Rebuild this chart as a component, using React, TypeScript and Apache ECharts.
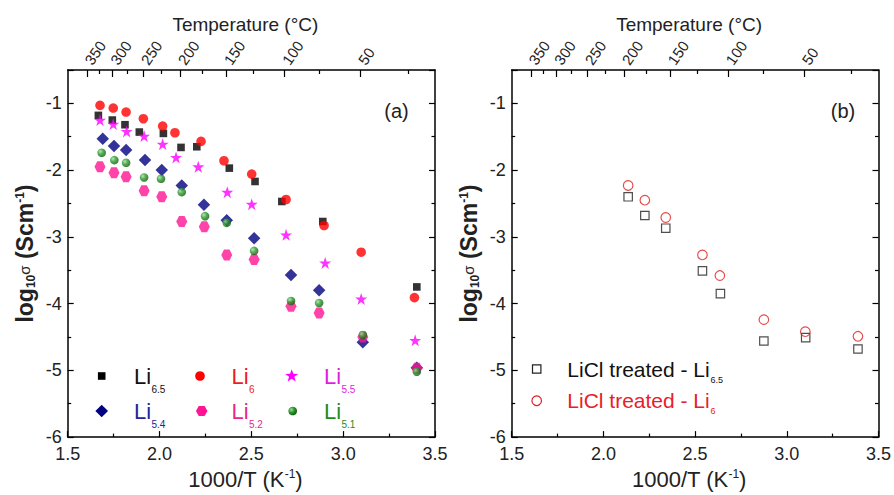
import React, { useEffect, useRef } from 'react';
import * as echarts from 'echarts';

// ---------- data ----------
const tempMajorC = [350, 300, 250, 200, 150, 100, 50];
const tempMinorC = [325, 275, 225, 175, 125, 75, 25];
const invTickLabels = ['1.5', '2.0', '2.5', '3.0', '3.5'];

// Panel (a)
const li65X = [1.667, 1.743, 1.812, 1.89, 2.021, 2.117, 2.203, 2.38, 2.52, 2.666, 2.889, 3.401];
const li65Y = [-1.18, -1.25, -1.32, -1.43, -1.45, -1.66, -1.65, -1.97, -2.17, -2.47, -2.77, -3.75];
const li6X = [1.676, 1.748, 1.818, 1.912, 2.017, 2.084, 2.226, 2.351, 2.502, 2.689, 2.896, 3.098, 3.388];
const li6Y = [-1.03, -1.07, -1.13, -1.23, -1.34, -1.44, -1.57, -1.86, -2.06, -2.44, -2.83, -3.23, -3.91];
const li55X = [1.676, 1.748, 1.821, 1.916, 2.017, 2.09, 2.211, 2.369, 2.502, 2.689, 2.902, 3.098, 3.392];
const li55Y = [-1.25, -1.31, -1.42, -1.49, -1.61, -1.81, -1.95, -2.33, -2.51, -2.97, -3.39, -3.93, -4.55];
const li54X = [1.691, 1.752, 1.818, 1.921, 2.012, 2.121, 2.242, 2.366, 2.515, 2.716, 2.869, 3.107, 3.401];
const li54Y = [-1.53, -1.64, -1.7, -1.85, -2.0, -2.23, -2.52, -2.75, -3.02, -3.57, -3.8, -4.58, -4.96];
const li52X = [1.676, 1.752, 1.818, 1.916, 2.012, 2.121, 2.244, 2.366, 2.515, 2.716, 2.869, 3.107, 3.401];
const li52Y = [-1.95, -2.04, -2.1, -2.31, -2.4, -2.77, -2.85, -3.27, -3.34, -4.04, -4.14, -4.5, -4.97];
const li51X = [1.685, 1.754, 1.818, 1.916, 2.008, 2.121, 2.248, 2.366, 2.515, 2.716, 2.869, 3.107, 3.401];
const li51Y = [-1.74, -1.85, -1.89, -2.11, -2.13, -2.33, -2.69, -2.79, -3.21, -3.96, -3.99, -4.47, -5.02];

// Panel (b)
const licl65X = [2.135, 2.226, 2.34, 2.54, 2.638, 2.875, 3.103, 3.388];
const licl65Y = [-2.4, -2.68, -2.87, -3.51, -3.85, -4.56, -4.51, -4.68];
const licl6X = [2.135, 2.226, 2.34, 2.54, 2.635, 2.875, 3.101, 3.388];
const licl6Y = [-2.23, -2.45, -2.71, -3.27, -3.58, -4.24, -4.42, -4.49];

// ---------- helpers ----------
const FONT = '"Liberation Sans", Arial, Helvetica, sans-serif';
const zip = (xs: number[], ys: number[]) => xs.map((x, i) => [x, ys[i]]);
const invT = (c: number) => 1000 / (c + 273.15);

const STAR = 'path://M50,0 L61.8,35.5 L99,35.5 L69,57.5 L80.5,93 L50,71 L19.5,93 L31,57.5 L1,35.5 L38.2,35.5 Z';
const HEX = 'path://M25,6 L75,6 L100,50 L75,94 L25,94 L0,50 Z';

const greenBall = (cx = 0.35, cy = 0.35) => ({
  type: 'radial', x: cx, y: cy, r: 0.7,
  colorStops: [
    { offset: 0, color: '#9be39b' },
    { offset: 0.45, color: '#2f9a2f' },
    { offset: 1, color: '#0b5a0b' },
  ],
});

function polyPoints(cx: number, cy: number, n: number, r: number, start: number) {
  const pts: number[][] = [];
  for (let i = 0; i < n; i++) {
    const a = start + (i * 2 * Math.PI) / n;
    pts.push([cx + r * Math.cos(a), cy + r * Math.sin(a)]);
  }
  return pts;
}
function starPoints(cx: number, cy: number, R: number, r: number) {
  const pts: number[][] = [];
  for (let i = 0; i < 10; i++) {
    const a = -Math.PI / 2 + (i * Math.PI) / 5;
    const rr = i % 2 === 0 ? R : r;
    pts.push([cx + rr * Math.cos(a), cy + rr * Math.sin(a)]);
  }
  return pts;
}

function marker(shape: string, cx: number, cy: number, color: string): any {
  switch (shape) {
    case 'square':
      return { type: 'rect', shape: { x: cx - 3.8, y: cy - 3.8, width: 7.6, height: 7.6 }, style: { fill: color } };
    case 'circle':
      return { type: 'circle', shape: { cx, cy, r: 4.8 }, style: { fill: color } };
    case 'star':
      return { type: 'polygon', shape: { points: starPoints(cx, cy, 6.8, 2.8) }, style: { fill: color } };
    case 'diamond':
      return { type: 'polygon', shape: { points: polyPoints(cx, cy, 4, 6.3, 0) }, style: { fill: color } };
    case 'hex':
      return { type: 'polygon', shape: { points: polyPoints(cx, cy, 6, 5.8, 0) }, style: { fill: color } };
    case 'ball':
      return { type: 'circle', shape: { cx, cy, r: 4.3 }, style: { fill: greenBall() } };
    case 'openSquare':
      return { type: 'rect', shape: { x: cx - 4.2, y: cy - 4.2, width: 8.4, height: 8.4 }, style: { fill: 'none', stroke: color, lineWidth: 1.2 } };
    case 'openCircle':
      return { type: 'circle', shape: { cx, cy, r: 4.8 }, style: { fill: 'none', stroke: color, lineWidth: 1.2 } };
  }
  return null;
}

function txt(text: string, x: number, y: number, size: number, color: string, align = 'left', weight = 'normal'): any {
  return {
    type: 'text', x, y,
    style: { text, fontSize: size, fontFamily: FONT, fill: color, align, verticalAlign: 'middle', fontWeight: weight },
  };
}

// layout of the two panels
const GRID_TOP = 70;
const GRID_H = 371;
const GRID_W = 367.3;
const LEFT_A = 67.7;
const LEFT_B = 511.7;

function bottomAxis(grid: number): any {
  return {
    type: 'value', gridIndex: grid, position: 'bottom', min: 1.5, max: 3.5, interval: 0.5,
    axisLine: { show: true, onZero: false, lineStyle: { color: '#000', width: 1.5 } },
    axisTick: { show: true, inside: true, length: 6, lineStyle: { color: '#000', width: 1.2 } },
    minorTick: { show: true, splitNumber: 2, length: 3.5, lineStyle: { color: '#000', width: 1.2 } },
    splitLine: { show: false },
    axisLabel: {
      show: true, margin: 8, fontSize: 18, color: '#222', fontFamily: FONT,
      formatter: (v: number) => { const s = v.toFixed(1); return invTickLabels.includes(s) ? s : ''; },
    },
    name: '{a|1000/T (K}{p|-1}{a|)}', nameLocation: 'middle', nameGap: 25,
    nameTextStyle: {
      padding: [0, 12, 0, 0],
      rich: {
        a: { fontSize: 22, fontFamily: FONT, color: '#222' },
        p: { fontSize: 12, fontFamily: FONT, color: '#222', verticalAlign: 'top' },
      },
    },
  };
}
function topMajorAxis(grid: number): any {
  const vals = tempMajorC.map(invT);
  return {
    type: 'value', gridIndex: grid, position: 'top', min: 1.5, max: 3.5,
    axisLine: { show: true, onZero: false, lineStyle: { color: '#000', width: 1.5 } },
    axisTick: { show: true, inside: true, length: 7, customValues: vals, lineStyle: { color: '#000', width: 1.2 } },
    splitLine: { show: false },
    axisLabel: { show: false },
    name: 'Temperature (°C)', nameLocation: 'middle', nameGap: 36,
    nameTextStyle: { fontSize: 19, fontFamily: FONT, color: '#222', padding: [0, 12, 0, 0] },
  };
}
function topMinorAxis(grid: number): any {
  const vals = tempMinorC.map(invT);
  return {
    type: 'value', gridIndex: grid, position: 'top', min: 1.5, max: 3.5,
    axisLine: { show: false },
    axisTick: { show: true, inside: true, length: 4, customValues: vals, lineStyle: { color: '#000', width: 1.2 } },
    splitLine: { show: false },
    axisLabel: { show: false },
  };
}
function yAxisFor(grid: number, right: boolean): any {
  return {
    type: 'value', gridIndex: grid, position: right ? 'right' : 'left', min: -6, max: -0.5, interval: 1,
    axisLine: { show: true, onZero: false, lineStyle: { color: '#000', width: 1.5 } },
    axisTick: { show: true, inside: true, length: 6, lineStyle: { color: '#000', width: 1.2 } },
    minorTick: { show: true, splitNumber: 2, length: 3.5, lineStyle: { color: '#000', width: 1.2 } },
    splitLine: { show: false },
    axisLabel: right ? { show: false } : {
      show: true, margin: 6, fontSize: 18, color: '#222', fontFamily: FONT,
      formatter: (v: number) => (Number.isInteger(v) ? String(v) : ''),
    },
    name: right ? '' : '{a|log}{s|10}{g|σ}{a| (Scm}{p|-1}{a|)}',
    nameLocation: 'middle', nameGap: 31,
    nameTextStyle: {
      rich: {
        a: { fontSize: 23, fontFamily: FONT, color: '#222', fontWeight: 'bold' },
        s: { fontSize: 12, fontFamily: FONT, color: '#222', fontWeight: 'bold', verticalAlign: 'bottom' },
        g: { fontSize: 15, fontFamily: FONT, color: '#222', verticalAlign: 'top', padding: [3, 0, 0, 0] },
        p: { fontSize: 12, fontFamily: FONT, color: '#222', fontWeight: 'bold', verticalAlign: 'top' },
      },
    },
  };
}

const legendA = [
  { sub: '6.5', color: '#111', shape: 'square', mc: '#000', mx: 101.7, ly: 376, tx: 134 },
  { sub: '6', color: '#ee1c25', shape: 'circle', mc: '#ff0000', mx: 200, ly: 376, tx: 231.5 },
  { sub: '5.5', color: '#e01ee0', shape: 'star', mc: '#ff00ff', mx: 291.7, ly: 376, tx: 324 },
  { sub: '5.4', color: '#23239a', shape: 'diamond', mc: '#000080', mx: 101.7, ly: 411, tx: 134 },
  { sub: '5.2', color: '#e8288c', shape: 'hex', mc: '#ff1493', mx: 201.7, ly: 411, tx: 231.5 },
  { sub: '5.1', color: '#1f8a1f', shape: 'ball', mc: '#2f9a2f', mx: 292.7, ly: 411, tx: 324 },
];
const legendB = [
  { label: 'LiCl treated - Li', sub: '6.5', color: '#111', shape: 'openSquare', mc: '#222', ly: 369 },
  { label: 'LiCl treated - Li', sub: '6', color: '#e8202a', shape: 'openCircle', mc: '#e02020', ly: 400.7 },
];

export default function App() {
  const ref = useRef<HTMLDivElement>(null);
  useEffect(() => {
    if (!ref.current) return;
    const chart = echarts.init(ref.current, undefined, { renderer: 'svg' });

    const graphic: any[] = [];
    legendA.forEach((it) => {
      graphic.push(marker(it.shape, it.mx, it.ly, it.mc));
      graphic.push(txt('Li', it.tx, it.ly, 22, it.color));
      graphic.push(txt(it.sub, it.tx + 17.5, it.ly + 13, 10, it.color));
    });
    legendB.forEach((it) => {
      graphic.push(marker(it.shape, 536.7, it.ly, it.mc));
      graphic.push(txt(it.label, 567.3, it.ly, 21, it.color));
      graphic.push(txt(it.sub, 710.5, it.ly + 10.5, 9, it.color));
    });
    graphic.push(txt('(a)', 396.5, 110.5, 20, '#222', 'center'));
    graphic.push(txt('(b)', 843, 110.5, 20, '#222', 'center'));

    const sc = (name: string, x: number[], y: number[], symbol: string, size: number, itemStyle: any, xi: number, yi: number): any => ({
      name, type: 'scatter', xAxisIndex: xi, yAxisIndex: yi, data: zip(x, y),
      symbol, symbolSize: size, itemStyle, emphasis: { disabled: true },
    });

    chart.setOption({
      animation: false,
      backgroundColor: '#fff',
      textStyle: { fontFamily: FONT },
      grid: [
        { left: LEFT_A, top: GRID_TOP, width: GRID_W, height: GRID_H },
        { left: LEFT_B, top: GRID_TOP, width: GRID_W, height: GRID_H },
      ],
      xAxis: [bottomAxis(0), topMajorAxis(0), topMinorAxis(0), bottomAxis(1), topMajorAxis(1), topMinorAxis(1)],
      yAxis: [yAxisFor(0, false), yAxisFor(0, true), yAxisFor(1, false), yAxisFor(1, true)],
      series: [
        sc('Li6.5', li65X, li65Y, 'rect', 7.6, { color: '#000' }, 0, 0),
        sc('Li6', li6X, li6Y, 'circle', 9.6, { color: '#ff0000' }, 0, 0),
        sc('Li5.5', li55X, li55Y, STAR, 12, { color: '#ff00ff' }, 0, 0),
        sc('Li5.4', li54X, li54Y, 'diamond', 12.5, { color: '#000080' }, 0, 0),
        sc('Li5.2', li52X, li52Y, HEX, 11, { color: '#ff1493' }, 0, 0),
        sc('Li5.1', li51X, li51Y, 'circle', 8.6, { color: greenBall() }, 0, 0),
        sc('LiCl treated - Li6.5', licl65X, licl65Y, 'rect', 8.4, { color: 'rgba(0,0,0,0)', borderColor: '#222', borderWidth: 1.2 }, 3, 2),
        sc('LiCl treated - Li6', licl6X, licl6Y, 'circle', 9.6, { color: 'rgba(0,0,0,0)', borderColor: '#e02020', borderWidth: 1.2 }, 3, 2),
      ],
      graphic,
    });

    // rotated temperature tick labels on the top axes, placed through the axis scale
    const rot = (55 * Math.PI) / 180;
    [1, 4].forEach((axisIndex) => {
      tempMajorC.forEach((c) => {
        const px = chart.convertToPixel({ xAxisIndex: axisIndex }, invT(c)) as number;
        graphic.push({
          type: 'text', x: px + 1, y: GRID_TOP - 7, rotation: rot,
          style: { text: String(c), fontSize: 15, fontFamily: FONT, fill: '#222', align: 'left', verticalAlign: 'middle' },
        });
      });
    });
    chart.setOption({ graphic });

    return () => chart.dispose();
  }, []);
  return <div ref={ref} style={{ position: 'fixed', left: 0, top: 0, width: 894, height: 495, background: '#fff' }} />;
}
